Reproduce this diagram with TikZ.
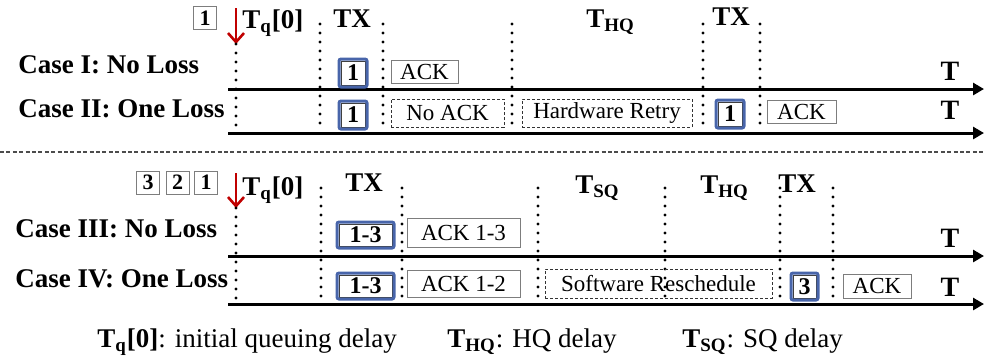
\documentclass[tikz,border=0pt]{standalone}
\usepackage{fontspec}
\setmainfont{Liberation Serif}[BoldFont={Liberation Serif Bold}]
\usetikzlibrary{arrows.meta}
\definecolor{pktblue}{RGB}{72,101,170}
\definecolor{arrred}{RGB}{192,0,0}
\definecolor{boxgray}{RGB}{125,125,125}
\newcommand\sub[1]{\textsubscript{#1}}
\newcommand\pktframe[1]{\draw[pktframe] ([shift={(-2,-2)}]#1.north west) rectangle ([shift={(2,2)}]#1.south east);}

\begin{document}
\begin{tikzpicture}[x=0.5pt,y=-0.5pt,
  heading/.style={font=\rmfamily\fontsize{13.5}{16}\selectfont\bfseries, inner sep=0pt, anchor=base west},
  tlabel/.style={font=\rmfamily\fontsize{14}{16}\selectfont\bfseries, inner sep=0pt},
  legend/.style={font=\rmfamily\fontsize{13.5}{16}\selectfont, inner sep=0pt, anchor=base west},
  msg/.style={draw=boxgray, line width=0.5pt, outer sep=0pt, inner sep=0pt,
    font=\rmfamily\fontsize{11.5}{14}\selectfont},
  lost/.style={msg, draw=black!80, dash pattern=on 1.5pt off 1pt},
  pkt/.style={draw=black!75, line width=0.5pt, outer sep=0pt, inner sep=0pt,
    font=\rmfamily\fontsize{12}{14}\selectfont\bfseries, minimum width=12pt, minimum height=12pt},
  qpkt/.style={draw=boxgray, line width=0.5pt, outer sep=0pt, inner sep=0pt,
    font=\rmfamily\fontsize{11}{13}\selectfont\bfseries, minimum width=11.5pt, minimum height=11.5pt},
  pktframe/.style={draw=pktblue, line width=1.5pt, rounded corners=1pt},
  axis/.style={line width=1.5pt, -{Triangle[length=5.5pt,width=6pt]}},
  vdots/.style={line width=1.6pt, line cap=round, dash pattern=on 0pt off 4.5pt},
  arrival/.style={draw=arrred, line width=1.3pt, -{Straight Barb[length=4.5pt,width=8pt]}},
]
\useasboundingbox (0,0) rectangle (984,360);

% ---------------- upper part: single packet ----------------
\node[qpkt] (qa1) at (205,18) {1};
\coordinate (ra0) at (236,8);
\coordinate (ra1) at (236,44);
\draw[arrival] (ra0) -- (ra1);
\node[heading] (tq1) at (242,28) {T\sub{q}[0]};
\node[heading, anchor=base] (tx1) at (352,27) {TX};
\node[heading] (thq1) at (586,27) {T\sub{HQ}};
\node[heading] (tx2) at (712,25) {TX};

% phase boundaries
\draw[vdots] (ra1) -- (236,130);
\foreach \x in {320,383,512,703,760}
  \draw[vdots] (\x,24) -- (\x,130);

% time axes
\coordinate (a1s) at (228,89); \coordinate (a1e) at (984,89);
\coordinate (a2s) at (228,133); \coordinate (a2e) at (984,133);
\draw[axis] (a1s) -- (a1e);
\draw[axis] (a2s) -- (a2e);
\node[tlabel] (t1) at (950,71) {T};
\node[tlabel] (t2) at (950,110) {T};

\node[heading] (c1) at (18,73) {Case I: No Loss};
\node[heading] (c2) at (18,117) {Case II: One Loss};

% case I
\node[pkt] (p1) at (353,73) {1};
\node[msg, minimum width=33.5pt, minimum height=11.5pt] (ack1) at (424.5,71.5) {ACK};
% case II
\node[pkt] (p2) at (353,115) {1};
\node[lost, minimum width=56.5pt, minimum height=14pt] (nack) at (447.5,113) {No ACK};
\node[lost, minimum width=85pt, minimum height=14pt] (hw) at (607,113) {Hardware Retry};
\node[pkt] (p3) at (730,114) {1};
\node[msg, minimum width=34.5pt, minimum height=11.5pt] (ack2) at (801.5,111.5) {ACK};

% separator
\coordinate (s0) at (0,152); \coordinate (s1) at (984,152);
\draw[black!70, line width=0.6pt, dash pattern=on 2pt off 1.2pt] (s0) -- (s1);

% ---------------- lower part: aggregated packets ----------------
\node[qpkt] (qb3) at (148,182.5) {3};
\node[qpkt] (qb2) at (177.5,182.5) {2};
\node[qpkt] (qb1) at (206,182.5) {1};
\coordinate (rb0) at (236,173);
\coordinate (rb1) at (236,208);
\draw[arrival] (rb0) -- (rb1);
\node[heading] (tq2) at (242,195) {T\sub{q}[0]};
\node[heading, anchor=base] (tx3) at (364,191) {TX};
\node[heading] (tsq) at (575,193) {T\sub{SQ}};
\node[heading] (thq2) at (700,193) {T\sub{HQ}};
\node[heading] (tx4) at (778,192) {TX};

\draw[vdots] (rb1) -- (236,302);
\foreach \x in {321,402,538,665,780,833}
  \draw[vdots] (\x,188) -- (\x,302);

\coordinate (a3s) at (228,256); \coordinate (a3e) at (984,256);
\coordinate (a4s) at (228,304); \coordinate (a4e) at (984,304);
\draw[axis] (a3s) -- (a3e);
\draw[axis] (a4s) -- (a4e);
\node[tlabel] (t3) at (950,238) {T};
\node[tlabel] (t4) at (950,287) {T};

\node[heading] (c3) at (15,237) {Case III: No Loss};
\node[heading] (c4) at (15,287) {Case IV: One Loss};

% case III
\node[pkt, minimum width=26.5pt, minimum height=11pt] (p4) at (365.5,235) {1-3};
\node[msg, minimum width=56.5pt, minimum height=14.5pt] (ack3) at (463.5,232.5) {ACK 1-3};
% case IV
\node[pkt, minimum width=26.5pt, minimum height=11pt] (p5) at (365.5,286) {1-3};
\node[msg, minimum width=56.5pt, minimum height=13.5pt] (ack4) at (463.5,283.5) {ACK 1-2};
\node[lost, minimum width=113.5pt, minimum height=14.5pt] (sw) at (658.5,283.5) {Software Reschedule};
\node[pkt, minimum width=11.5pt, minimum height=11.5pt] (p6) at (804.5,286.5) {3};
\node[msg, minimum width=34pt, minimum height=12pt] (ack5) at (877,286) {ACK};

% blue frames around transmitted packets
\pktframe{p1}\pktframe{p2}\pktframe{p3}\pktframe{p4}\pktframe{p5}\pktframe{p6}

% ---------------- legend ----------------
\node[legend] (l1) at (97,347) {\textbf{T\sub{q}[0]}: initial queuing delay};
\node[legend] (l2) at (447,347) {\textbf{T\sub{HQ}}: HQ delay};
\node[legend] (l3) at (682,347) {\textbf{T\sub{SQ}}: SQ delay};
\end{tikzpicture}
\end{document}
